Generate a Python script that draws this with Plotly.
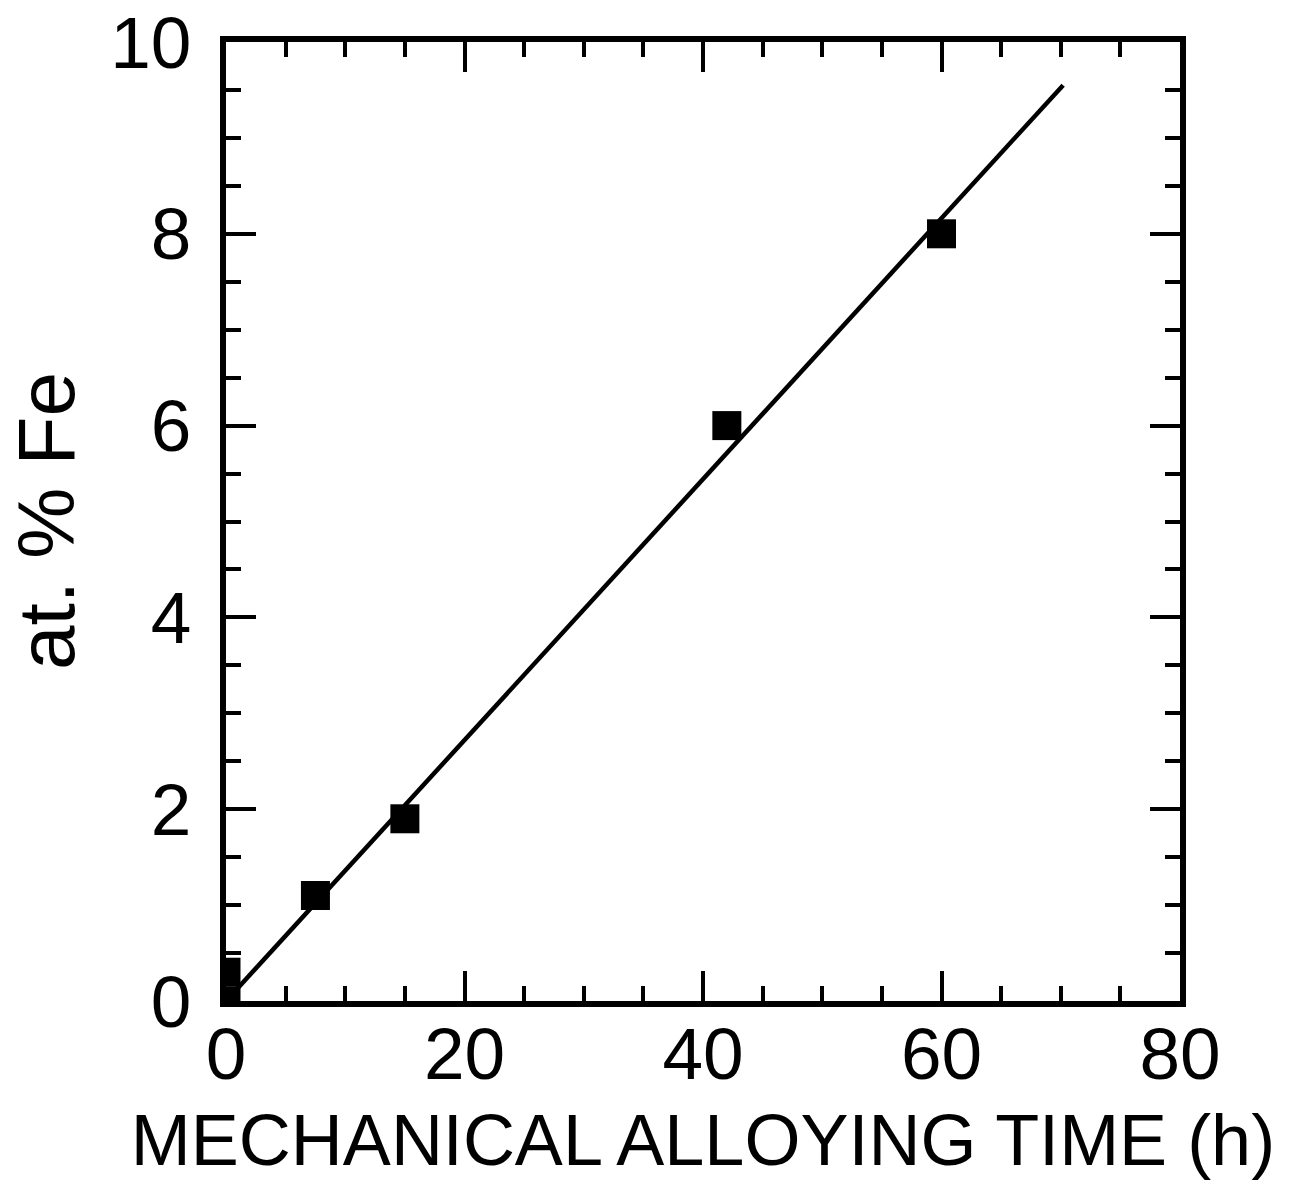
import plotly.graph_objects as go

# Measured Fe content versus milling time
time_h = [0, 0, 7.5, 15, 42, 60]
fe_at_pct = [0.0, 0.3, 1.1, 1.9, 6.0, 8.0]

# Linear fit drawn across the milling range
fit_time = [0, 70.2]
fit_fe = [0.0, 9.55]

x_ticks = [0, 20, 40, 60, 80]
y_ticks = [0, 2, 4, 6, 8, 10]

FONT = "Liberation Sans"

fig = go.Figure()
fig.add_trace(go.Scatter(
    x=fit_time, y=fit_fe, mode="lines",
    line=dict(color="black", width=4.5),
    showlegend=False, hoverinfo="skip",
))
fig.add_trace(go.Scatter(
    x=time_h, y=fe_at_pct, mode="markers",
    marker=dict(symbol="square", size=29, color="black", line=dict(width=0)),
    showlegend=False,
))

axis_common = dict(
    showline=True, linewidth=6, linecolor="black",
    mirror="ticks", showgrid=False, zeroline=False, automargin=False,
    ticks="inside", ticklen=30, tickwidth=4, tickcolor="black",
    tickfont=dict(family=FONT, size=73, color="black"),
)

fig.update_xaxes(
    range=[0, 80], tickmode="array", tickvals=x_ticks,
    ticktext=[str(v) for v in x_ticks],
    minor=dict(dtick=5, ticks="inside", ticklen=15, tickwidth=4, tickcolor="black"),
    ticklabelstandoff=-16,
    title=dict(text="MECHANICAL ALLOYING TIME (h)",
               font=dict(family=FONT, size=72, color="black"), standoff=24),
    **axis_common,
)
fig.update_yaxes(
    range=[0, 10], tickmode="array", tickvals=y_ticks,
    ticktext=[str(v) for v in y_ticks],
    minor=dict(dtick=0.5, ticks="inside", ticklen=15, tickwidth=4, tickcolor="black"),
    ticklabelstandoff=14,
    **axis_common,
)

# Rotated y-axis title placed at the left page edge
fig.add_annotation(
    text="at. % Fe", textangle=-90,
    xref="paper", yref="paper", x=0, y=0.5,
    xshift=-226, xanchor="left", yanchor="middle",
    showarrow=False,
    font=dict(family=FONT, size=80, color="black"),
)

fig.update_layout(
    width=1291, height=1184,
    margin=dict(l=226, r=111, t=42, b=183),
    paper_bgcolor="white", plot_bgcolor="white",
)

fig.write_html("out.html")
